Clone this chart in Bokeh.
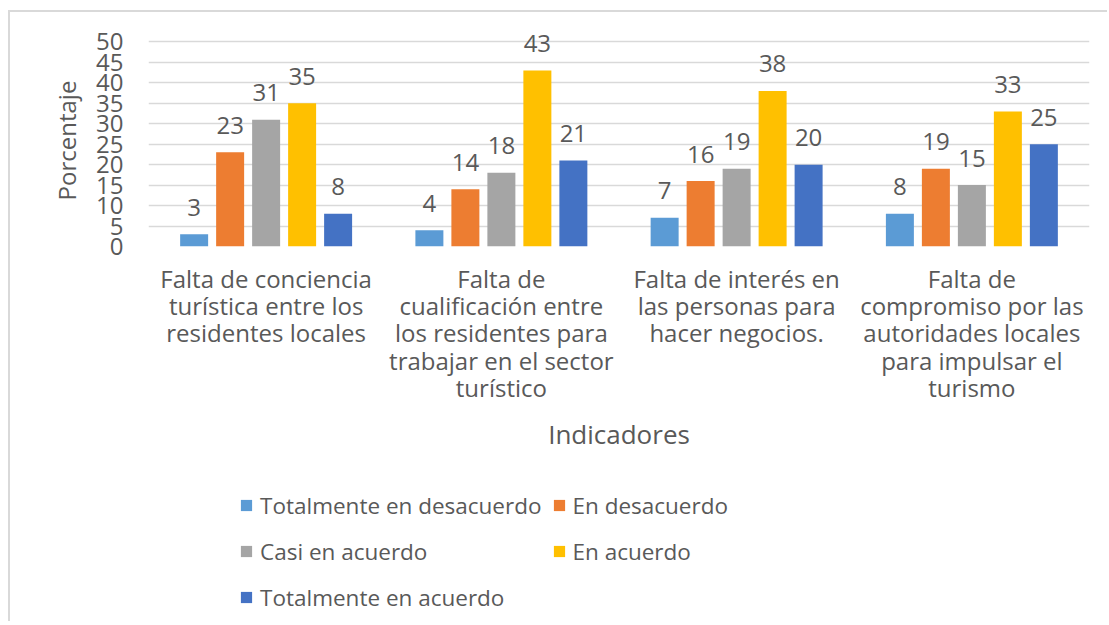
from bokeh.plotting import figure
from bokeh.layouts import column
from bokeh.models import (FactorRange, Range1d, FixedTicker, ColumnDataSource,
                          Legend, LegendItem)
from bokeh.transform import dodge
from bokeh.core.properties import value
from bokeh.embed import file_html
from bokeh.resources import INLINE

# ---- data ----
categories = [
    "Falta de conciencia\nturística entre los\nresidentes locales",
    "Falta de\ncualificación entre\nlos residentes para\ntrabajar en el sector\nturístico",
    "Falta de interés en\nlas personas para\nhacer negocios.",
    "Falta de\ncompromiso por las\nautoridades locales\npara impulsar el\nturismo",
]
series_names = ["Totalmente en desacuerdo", "En desacuerdo", "Casi en acuerdo",
                "En acuerdo", "Totalmente en acuerdo"]
totalmente_desacuerdo = [3, 4, 7, 8]
en_desacuerdo = [23, 14, 16, 19]
casi_acuerdo = [31, 18, 19, 15]
en_acuerdo = [35, 43, 38, 33]
totalmente_acuerdo = [8, 21, 20, 25]
series_values = [totalmente_desacuerdo, en_desacuerdo, casi_acuerdo,
                 en_acuerdo, totalmente_acuerdo]
colors = ["#5B9BD5", "#ED7D31", "#A5A5A5", "#FFC000", "#4472C4"]
y_ticks = [0, 5, 10, 15, 20, 25, 30, 35, 40, 45, 50]
y_title = "Porcentaje"
x_title = "Indicadores"

FONT = "Open Sans"
TXT = "#595959"

p = figure(x_range=FactorRange(factors=categories), y_range=Range1d(0, 51.8),
           width=1097, height=453, output_backend="svg", toolbar_location=None,
           min_border_left=138, min_border_right=18, min_border_top=22,
           min_border_bottom=219)
p.outline_line_color = None
p.background_fill_color = "white"
p.border_fill_color = "white"

step = 0.153
bar_w = 0.119
sources = []
for i, (name, vals, col) in enumerate(zip(series_names, series_values, colors)):
    src = ColumnDataSource(dict(x=categories, top=vals, lab=[str(v) for v in vals]))
    sources.append(src)
    off = (i - 2) * step
    p.vbar(x=dodge("x", off, range=p.x_range), top="top", width=bar_w,
           source=src, fill_color=col, line_color=None)
    p.text(x=dodge("x", off, range=p.x_range), y="top", text="lab", source=src,
           text_font=value(FONT), text_font_size="24px", text_color=TXT,
           text_align="center", text_baseline="alphabetic", y_offset=-27)

# axes
p.yaxis.ticker = FixedTicker(ticks=y_ticks)
for ax in (p.xaxis[0], p.yaxis[0]):
    ax.axis_line_color = None
    ax.major_tick_line_color = None
    ax.minor_tick_line_color = None
    ax.major_label_text_font = FONT
    ax.major_label_text_color = TXT
    ax.axis_label_text_font = FONT
    ax.axis_label_text_color = TXT
    ax.axis_label_text_font_style = "normal"

p.yaxis.major_label_text_font_size = "24px"
p.yaxis.major_label_standoff = 19
p.yaxis.axis_label = y_title
p.yaxis.axis_label_text_font_size = "24px"
p.yaxis.axis_label_standoff = 10

p.xaxis.major_label_text_font_size = "24px"
p.xaxis.major_label_text_line_height = 0.83
p.xaxis.major_label_standoff = 9
p.xaxis.axis_label = x_title
p.xaxis.axis_label_text_font_size = "26px"
p.xaxis.axis_label_standoff = 9

p.xgrid.grid_line_color = None
p.ygrid.grid_line_color = "#D9D9D9"
p.ygrid.grid_line_width = 1.5

# ---- legend panel (separate figure below the chart) ----
# zero-size copies of the series; only their legend entries show
lg = figure(width=1097, height=156, x_range=p.x_range, y_range=Range1d(-2, -1),
            output_backend="svg", toolbar_location=None,
            x_axis_type=None, y_axis_type=None,
            min_border_left=0, min_border_right=0, min_border_top=0, min_border_bottom=0)
lg.outline_line_color = None
lg.xgrid.grid_line_color = None
lg.ygrid.grid_line_color = None
lg_renderers = []
for i, (src, col) in enumerate(zip(sources, colors)):
    off = (i - 2) * step
    r = lg.vbar(x=dodge("x", off, range=p.x_range), top="top", bottom="top",
                width=0, source=src, fill_color=col, line_color=None)
    lg_renderers.append(r)

legend = Legend(items=[LegendItem(label=n, renderers=[r]) for n, r in zip(series_names, lg_renderers)],
                location=(91, 6), orientation="horizontal", ncols=2,
                padding=0, margin=0, spacing=10, label_height=36,
                glyph_width=14, glyph_height=14, label_standoff=7,
                label_text_font=FONT, label_text_font_size="22.5px",
                label_text_color=TXT, border_line_color=None,
                background_fill_alpha=0)
lg.add_layout(legend)

layout = column(p, lg, spacing=0,
                styles={"border-top": "2px solid #D9D9D9", "border-left": "2px solid #D9D9D9",
                        "margin-left": "8px", "margin-top": "10px"})

open("out.html", "w").write(file_html(layout, INLINE))
